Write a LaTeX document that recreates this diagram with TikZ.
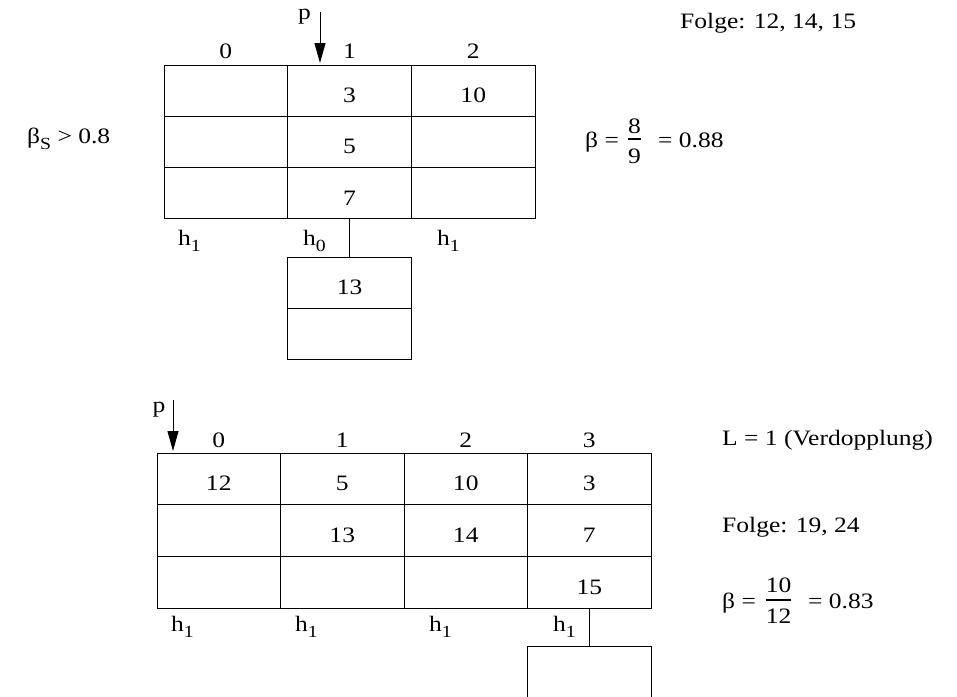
\documentclass[tikz,border=0pt]{standalone}
\usepackage{fontspec}
\setmainfont{Liberation Serif}[FakeStretch=1.16]
\usetikzlibrary{arrows.meta}
% lowered, smaller index (h_1, beta_S)
\newcommand\lowsub[1]{\raisebox{-6pt}{\fontsize{17}{17}\selectfont #1}}
\begin{document}
\begin{tikzpicture}[x=1pt,y=-1pt,
  every node/.style={font=\fontsize{22}{26}\selectfont, inner sep=0pt},
  cellA/.style={draw, line width=1pt, minimum width=123.7pt, minimum height=51.3pt,
                text height=24pt, text depth=0pt},
  cellB/.style={draw, line width=1pt, minimum width=123.5pt, minimum height=51.7pt,
                text height=24pt, text depth=0pt},
  lbl/.style={anchor=base},
  txt/.style={anchor=base west},
  ptr/.style={line width=1pt, -{Triangle[length=20pt,width=11pt]}},
  link/.style={line width=1pt},
  bar/.style={line width=1.3pt}]
\useasboundingbox (0,0) rectangle (957,696);

% ---------- upper table: 3 buckets ----------
\foreach \c/\r/\v in {0/1/{},0/2/{},0/3/{},1/1/3,1/2/5,1/3/7,2/1/10,2/2/{},2/3/{}}
  \node[cellA] (a-\c-\r) at ({225.85+123.7*\c},{90.65+51.3*(\r-1)}) {\v};
\foreach \c in {0,1,2}
  \node[lbl] (ia-\c) at ({225.85+123.7*\c},58) {\c};

% overflow bucket of bucket 1
\node[cellA] (ov1) at (349.55,282.75) {13};
\node[cellA] (ov2) at (349.55,334.05) {};
\draw[link] (a-1-3.south) -- (ov1.north);

% pointer p
\coordinate (pa) at (320,12);
\coordinate (pat) at (320,63);
\draw[ptr] (pa) -- (pat);
\node[lbl] (pal) at (304.5,19) {p};

% hash functions below the buckets
\node[txt] (ha0) at (178,245) {h\lowsub{1}};
\node[txt] (ha1) at (303,245) {h\lowsub{0}};
\node[txt] (ha2) at (437,245) {h\lowsub{1}};

% side notes
\node[txt] (bs) at (27,143) {β\lowsub{S} > 0.8};
\node[txt] (fa) at (680,28) {Folge: 12, 14, 15};
\node[txt] (b1) at (585,147) {β =};
\node[lbl] (n1) at (634.5,133) {8};
\draw[bar] ([yshift=-6pt]n1.base west) -- ([yshift=-6pt]n1.base east);
\node[lbl] (d1) at (634.5,163) {9};
\node[txt] (e1) at (658,147) {= 0.88};

% ---------- lower table: 4 buckets ----------
\foreach \c/\r/\v in {0/1/12,0/2/{},0/3/{},1/1/5,1/2/13,1/3/{},2/1/10,2/2/14,2/3/{},3/1/3,3/2/7,3/3/15}
  \node[cellB] (b-\c-\r) at ({218.75+123.5*\c},{478.85+51.7*(\r-1)}) {\v};
\foreach \c in {0,1,2,3}
  \node[lbl] (ib-\c) at ({218.75+123.5*\c},447) {\c};

% overflow bucket of bucket 3
\node[cellB, minimum height=60pt, anchor=north] (ov3) at (589.25,646) {};
\draw[link] (b-3-3.south) -- (ov3.north);

% pointer p
\coordinate (pb) at (173,400);
\coordinate (pbt) at (173,451);
\draw[ptr] (pb) -- (pbt);
\node[lbl] (pbl) at (159,412) {p};

\node[txt] (hb0) at (171,631) {h\lowsub{1}};
\node[txt] (hb1) at (295,631) {h\lowsub{1}};
\node[txt] (hb2) at (429,631) {h\lowsub{1}};
\node[txt] (hb3) at (553,631) {h\lowsub{1}};

% side notes
\node[txt] (lv) at (722,445) {L = 1 (Verdopplung)};
\node[txt] (fb) at (722,532) {Folge: 19, 24};
\node[txt] (b2) at (722,608) {β =};
\node[lbl] (n2) at (778.5,592) {10};
\draw[bar] ([yshift=-8pt]n2.base west) -- ([yshift=-8pt]n2.base east);
\node[lbl] (d2) at (778.5,623) {12};
\node[txt] (e2) at (808,608) {= 0.83};
\end{tikzpicture}
\end{document}
